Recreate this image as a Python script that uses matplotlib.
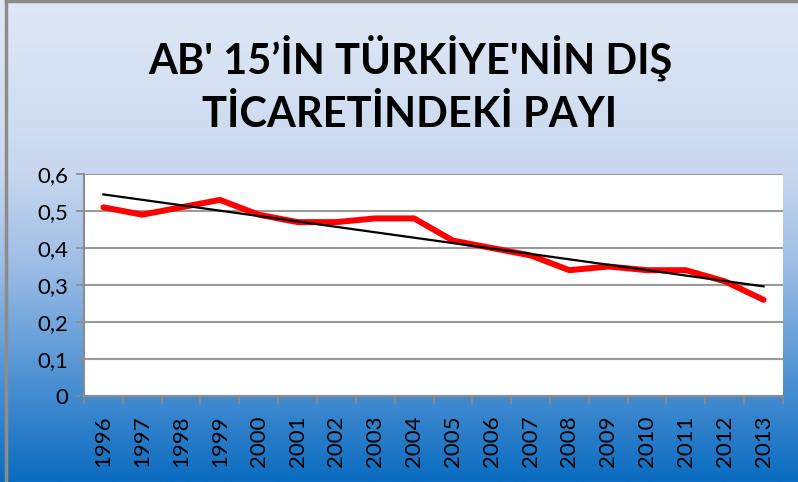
import numpy as np
import matplotlib
matplotlib.use("Agg")
import matplotlib.pyplot as plt
from matplotlib.colors import LinearSegmentedColormap

years = ["1996", "1997", "1998", "1999", "2000", "2001", "2002", "2003", "2004",
         "2005", "2006", "2007", "2008", "2009", "2010", "2011", "2012", "2013"]
share = [0.51, 0.49, 0.51, 0.53, 0.49, 0.47, 0.47, 0.48, 0.48,
         0.42, 0.40, 0.38, 0.34, 0.35, 0.34, 0.34, 0.31, 0.26]
yticks = [0, 0.1, 0.2, 0.3, 0.4, 0.5, 0.6]
ytick_labels = ["0", "0,1", "0,2", "0,3", "0,4", "0,5", "0,6"]
title = "AB' 15’İN TÜRKİYE'NİN DIŞ\nTİCARETİNDEKİ PAYI"

plt.rcParams['font.family'] = ['Lato', 'DejaVu Sans']

fig = plt.figure(figsize=(7.98, 4.82), dpi=100)

# background gradient
bg = fig.add_axes([0, 0, 1, 1], zorder=0)
cmap = LinearSegmentedColormap.from_list(
    "bg", [(0.0, "#e0e8f5"), (0.35, "#c9d8ef"), (0.55, "#9dbde6"),
           (0.8, "#4a8fd2"), (1.0, "#0b6cc0")])
grad = np.linspace(0, 1, 400).reshape(-1, 1)
bg.imshow(grad, aspect="auto", cmap=cmap, extent=[0, 1, 0, 1], origin="upper")
bg.plot([0.0075, 0.0075], [0, 0.997], color="#8c8c8c", lw=2.5, transform=bg.transAxes)
bg.plot([0.0075, 1], [0.997, 0.997], color="#8c8c8c", lw=2.5, transform=bg.transAxes)
bg.set_xlim(0, 1)
bg.set_ylim(0, 1)
bg.axis("off")

ax = fig.add_axes([84 / 798, 1 - 396 / 482, (783 - 84) / 798, (396 - 174) / 482], zorder=1)
ax.set_facecolor("white")
x = np.arange(len(years))
ax.plot(x, share, color="#ff0000", lw=4.3, solid_joinstyle="miter", solid_capstyle="round", zorder=3)
coef = np.polyfit(x, share, 1)
ax.plot(x, np.polyval(coef, x), color="black", lw=1.6, zorder=4)

ax.set_xlim(-0.5, len(years) - 0.5)
ax.set_ylim(0, 0.6)
ax.set_yticks(yticks)
ax.set_yticklabels(ytick_labels, fontsize=16)
ax.grid(axis="y", color="#9a9a9a", lw=1.5)
ax.set_axisbelow(True)
ax.set_xticks(x)
ax.set_xticklabels(years, rotation=90, fontsize=16)
ax.set_xticks(np.arange(-0.5, len(years)), minor=True)
ax.tick_params(axis="x", which="major", length=0, pad=14)
ax.tick_params(axis="x", which="minor", length=6, color="#8c8c8c", width=1.2)
ax.tick_params(axis="y", length=6, color="#8c8c8c", width=1.2, pad=5)
for s in ["top", "right"]:
    ax.spines[s].set_visible(False)
ax.spines["left"].set_color("#8c8c8c")
ax.spines["left"].set_linewidth(1.5)
ax.spines["bottom"].set_color("#8c8c8c")
ax.spines["bottom"].set_linewidth(1.5)

fig.text(410 / 798, 1 - 84 / 482, title, ha="center", va="center", fontsize=30,
         fontweight="bold", linespacing=1.45)

fig.savefig("out.png", dpi=100)
